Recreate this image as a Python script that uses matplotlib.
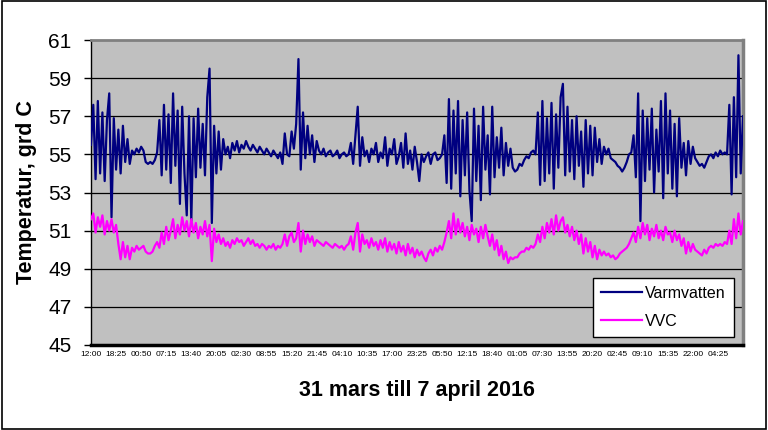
import numpy as np
import matplotlib
matplotlib.use('Agg')
import matplotlib.pyplot as plt
from matplotlib.patches import Rectangle

plt.rcParams['font.family'] = ['Liberation Sans', 'DejaVu Sans']

# tick labels on the category axis (every 385 min)
tick_labels = ['12:00', '18:25', '00:50', '07:15', '13:40', '20:05', '02:30', '08:55',
               '15:20', '21:45', '04:10', '10:35', '17:00', '23:25', '05:50', '12:15',
               '18:40', '01:05', '07:30', '13:55', '20:20', '02:45', '09:10', '15:35',
               '22:00', '04:25']
tick_step_min = 385
sample_step_min = 35   # values every 35 min

# Varmvatten, grd C
varmvatten = [
    55.5, 57.6, 53.7, 57.8, 54.0, 57.2, 53.6, 56.8, 58.2, 51.7,
    56.9, 54.2, 56.3, 54.0, 56.5, 54.6, 55.8, 54.5,
    55.2, 55.0, 55.3, 55.1, 55.4, 55.2, 54.6, 54.5, 54.6, 54.5, 54.7, 55.1,
    56.8, 53.9, 57.6, 54.2, 57.1, 53.5, 58.2, 54.4, 57.3, 52.4,
    57.5, 54.0, 51.8, 57.0, 51.5, 56.9, 53.8, 57.4, 54.3, 56.6,
    53.9, 58.0, 59.5, 51.4, 56.5, 54.0, 56.2, 54.2, 55.8,
    55.0, 55.4, 54.8, 55.6, 55.2, 55.7, 55.1, 55.5, 55.3, 55.7,
    55.4, 55.2, 55.5, 55.3, 55.1, 55.4, 55.2, 55.0, 55.3, 55.1,
    54.9, 55.2, 55.0, 54.8, 55.1,
    54.5, 56.1, 55.0, 54.9, 56.2, 55.3, 56.6, 60.0, 54.2, 57.2,
    54.8, 56.5, 55.0, 56.0, 54.6, 55.7,
    55.2, 55.0, 55.3, 54.9, 55.1, 55.2, 54.9, 55.0, 55.2, 54.8, 55.0, 55.1, 54.9, 55.0,
    55.6, 54.5, 56.0, 57.5, 54.4, 55.9, 54.9,
    55.2, 54.6, 55.3, 55.0, 55.6, 54.6, 55.1, 54.8, 55.9, 54.4,
    55.3, 55.0, 55.8, 54.5, 54.9, 55.6, 54.3, 56.1, 54.5, 55.2,
    54.2, 55.4, 54.6, 53.6, 55.0,
    54.6, 54.9, 55.1, 54.5, 55.0, 55.1, 54.7, 54.8, 55.0,
    56.0, 53.5, 57.9, 53.2, 57.3, 54.0, 57.8, 52.8, 56.8, 53.9,
    57.2, 53.1, 51.5, 57.4, 53.6, 56.5, 52.6, 57.5, 54.2, 56.0,
    52.9, 57.5, 53.8, 55.9, 54.3, 56.4, 53.9, 55.6, 54.4, 55.3,
    54.3, 54.1, 54.2, 54.5, 54.4, 54.7, 54.9, 54.8, 55.1, 55.2, 55.0,
    57.2, 53.4, 57.8, 53.6, 56.9, 54.0, 57.7, 53.2, 57.1, 54.3,
    58.0, 58.7, 53.9, 57.5, 54.1, 56.8, 53.7, 57.0, 54.4, 56.2,
    53.3, 56.8, 54.0, 56.5, 53.9, 56.4, 54.6, 55.8, 54.5,
    55.4, 55.0, 55.3, 54.8, 54.7, 54.6, 54.4, 54.3, 54.1, 54.3, 54.6, 55.0, 55.1,
    56.0, 53.8, 58.2, 51.5, 57.3, 53.6, 56.9, 54.2, 57.4, 53.0,
    56.3, 54.1, 57.8, 52.7, 58.2, 54.0, 57.3, 53.2, 56.6, 52.8,
    56.9, 54.3, 55.6, 53.9, 55.7, 54.5, 55.4, 54.8,
    54.6, 54.4, 54.5, 54.3, 54.6, 54.9, 55.0, 54.8, 55.1, 54.9, 55.2, 55.0, 55.1, 55.0,
    57.6, 52.9, 58.0, 53.8, 60.2, 54.0, 57.0,
]

# VVC, grd C
vvc = [
    51.6, 51.9, 50.9, 51.7, 51.2, 51.8, 50.8, 51.5, 51.0, 51.6, 50.9, 51.3,
    50.3, 49.5, 50.4, 49.6, 50.2, 49.5, 50.1, 49.9, 50.2, 50.0, 50.1, 50.2,
    49.9, 49.8, 49.8, 49.9, 50.2,
    50.4, 50.1, 50.9, 50.3, 51.2, 50.5, 51.0, 51.6, 50.6, 51.3,
    50.8, 51.7, 51.0, 51.5, 50.7, 51.6, 50.9, 51.4, 50.6, 51.2,
    50.8, 51.5, 50.7, 51.3, 49.4, 51.1, 50.4, 50.8, 50.3, 50.6,
    50.2, 50.4, 50.1, 50.5, 50.3, 50.6, 50.4, 50.5, 50.2, 50.4,
    50.6, 50.3, 50.5, 50.2, 50.3, 50.1, 50.3, 50.2, 50.0, 50.2,
    50.1, 50.3, 50.0, 50.2, 50.1,
    50.3, 50.8, 50.2, 50.7, 50.9, 50.4, 50.6, 51.4, 49.9, 51.0,
    50.3, 50.8, 50.4, 50.7, 50.2, 50.5,
    50.4, 50.3, 50.2, 50.4, 50.3, 50.2, 50.1, 50.3, 50.2, 50.1, 50.2, 50.0, 50.2, 50.3,
    50.7, 50.0, 50.9, 51.4, 49.9, 50.8, 50.3,
    50.5, 50.1, 50.6, 50.2, 50.4, 50.0, 50.5, 50.1, 50.6, 49.9,
    50.4, 50.0, 50.3, 49.8, 50.4, 49.9, 50.2, 49.7, 50.3, 49.8,
    50.1, 49.6, 50.0, 49.7, 49.9,
    49.6, 49.4, 49.8, 50.0, 49.7, 50.1, 49.9, 50.2, 50.0,
    50.4, 50.9, 51.5, 50.6, 51.9, 50.8, 51.6, 50.9, 51.4, 50.7,
    51.2, 50.5, 51.3, 50.8, 51.1, 50.4, 51.2, 50.6, 51.3, 50.7,
    50.2, 50.8, 50.0, 50.5, 49.7, 50.2, 49.5, 49.9, 49.3, 49.6,
    49.5, 49.6, 49.6, 49.8, 49.9, 49.9, 50.1, 50.0, 50.2, 50.1, 50.3,
    50.8, 50.4, 51.2, 50.6, 51.4, 50.9, 51.6, 50.8, 51.8, 51.0,
    51.5, 51.7, 50.9, 51.3, 50.7, 51.2, 50.5, 51.0, 50.3, 50.8,
    49.8, 50.6, 49.9, 50.4, 49.6, 50.2, 49.5, 50.0, 49.7,
    49.9, 49.7, 49.8, 49.6, 49.7, 49.5, 49.6, 49.8, 49.9, 50.0, 50.1, 50.3, 50.6,
    50.9, 50.4, 51.2, 50.6, 51.4, 50.8, 51.3, 50.5, 51.1, 50.7,
    51.3, 50.6, 51.0, 50.5, 51.2, 50.8, 50.9, 50.4, 51.0, 50.5,
    50.8, 50.2, 50.6, 49.8, 50.4, 49.9, 50.3, 50.0,
    49.9, 49.8, 49.7, 50.0, 49.8, 50.1, 50.2, 50.1, 50.3, 50.2, 50.3, 50.2, 50.4, 50.3,
    51.0, 50.3, 51.6, 50.6, 51.9, 50.8, 51.5,
]

y_ticks = [45, 47, 49, 51, 53, 55, 57, 59, 61]

x_vv = np.arange(len(varmvatten)) * sample_step_min
x_vvc = np.arange(len(vvc)) * sample_step_min
x_ticks = np.arange(len(tick_labels)) * tick_step_min

fig = plt.figure(figsize=(7.68, 4.30), dpi=100)
ax = fig.add_axes([91 / 768, 85 / 430, 652 / 768, 305 / 430])
ax.set_facecolor('#C0C0C0')

ax.plot(x_vv, varmvatten, color='#000080', lw=1.6, label='Varmvatten', zorder=3)
ax.plot(x_vvc, vvc, color='#FF00FF', lw=1.6, label='VVC', zorder=3)

ax.set_xlim(0, len(tick_labels) * tick_step_min)
ax.set_ylim(45, 61)
ax.set_yticks(y_ticks)
ax.set_yticklabels([str(t) for t in y_ticks], fontsize=15)
ax.set_xticks(x_ticks)
ax.set_xticklabels(tick_labels, fontsize=6)
ax.tick_params(axis='x', length=0, pad=4)
ax.tick_params(axis='y', direction='out', length=5, width=1, pad=9)

for t in y_ticks[1:-1]:
    ax.axhline(t, color='black', lw=0.9, zorder=1)

ax.spines['top'].set_color('#808080')
ax.spines['top'].set_linewidth(2)
ax.spines['right'].set_color('#808080')
ax.spines['right'].set_linewidth(2.5)
ax.spines['bottom'].set_color('black')
ax.spines['bottom'].set_linewidth(2.5)
ax.spines['left'].set_color('black')
ax.spines['left'].set_linewidth(1)

ax.set_ylabel('Temperatur, grd C', fontsize=15.5, fontweight='bold', labelpad=8)
ax.set_xlabel('31 mars till 7 april 2016', fontsize=15.5, fontweight='bold', labelpad=16)

leg = ax.legend(loc='lower right', bbox_to_anchor=(0.986, 0.026), borderaxespad=0,
                fontsize=11.5, frameon=True, fancybox=False, edgecolor='black',
                framealpha=1, handlelength=2.6, handletextpad=0.2, labelspacing=0.85,
                borderpad=0.5)
leg.get_frame().set_linewidth(1)

# outer chart border
fig.patches.append(Rectangle((0.002, 0.003), 0.995, 0.994, transform=fig.transFigure,
                             fill=False, edgecolor='black', lw=1.2))

plt.savefig('out.png', dpi=100)
